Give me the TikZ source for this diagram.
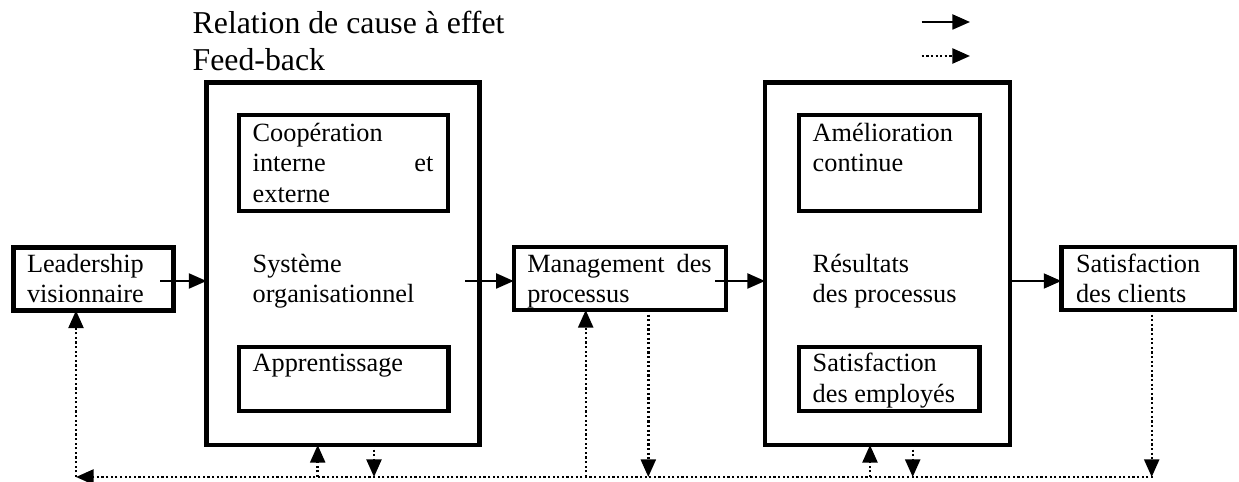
\documentclass[tikz,border=0pt]{standalone}
\usepackage{fontspec}
\setmainfont{Liberation Serif}
\usetikzlibrary{arrows.meta,fit}

\begin{document}
\begin{tikzpicture}[x=0.4563pt,y=-0.4563pt,
  box/.style={draw, rectangle, line width=2pt, inner sep=0pt, outer sep=0pt},
  txt/.style={inner sep=0pt, outer sep=0pt, anchor=base west, font=\fontsize{12}{14}\selectfont},
  txtr/.style={txt, anchor=base east},
  head/.style={inner sep=0pt, outer sep=0pt, anchor=base west, font=\fontsize{14.5}{17}\selectfont},
  tip/.style={-{Triangle[length=8pt,width=6.8pt]}},
  cause/.style={tip, line width=1pt},
  feedback/.style={tip, line width=1.1pt, dash pattern=on 1pt off 1.1pt}
]
\useasboundingbox (0,0) rectangle (1239,482);

% legend
\node[head] (legcause) at (192.7,34) {Relation de cause à effet};
\node[head] (legfb) at (192.7,70.7) {Feed-back};
\coordinate (lc1) at (921.7,22);
\coordinate (lc2) at (970,22);
\coordinate (lf1) at (921.7,56);
\coordinate (lf2) at (970,56);
\draw[cause] (lc1) -- (lc2);
\draw[feedback] (lf1) -- (lf2);

% boxes
\node[box, fit={(13.5,247.5)(173.5,310.5)}] (lead) {};
\node[box, fit={(206.5,82.5)(479.5,445)}] (sys) {};
\node[box, fit={(238.7,115.3)(448,211.3)}] (coop) {};
\node[box, fit={(238.7,347)(448.5,411)}] (app) {};
\node[box, fit={(513.7,247)(726,310)}] (mgmt) {};
\node[box, fit={(765,82.5)(1010,445)}] (res) {};
\node[box, fit={(798.7,115.3)(979.7,210.7)}] (amel) {};
\node[box, fit={(798.7,347)(979.5,411)}] (emp) {};
\node[box, fit={(1061.3,247)(1235,310)}] (cli) {};

% texts
\node[txt] (t1a) at (27,272.7) {Leadership};
\node[txt] (t1b) at (27,302.7) {visionnaire};
\node[txt] (t2a) at (252.7,141.7) {Coopération};
\node[txt] (t2b) at (252.7,171.7) {interne};
\node[txtr] (t2c) at (433.3,171.7) {et};
\node[txt] (t2d) at (252.7,202.7) {externe};
\node[txt] (t3a) at (252.7,272.7) {Système};
\node[txt] (t3b) at (252.7,302.7) {organisationnel};
\node[txt] (t4) at (252.7,371.2) {Apprentissage};
\node[txt] (t5a) at (527.3,272.7) {Management};
\node[txtr] (t5b) at (711.7,272.7) {des};
\node[txt] (t5c) at (527.3,302.7) {processus};
\node[txt] (t6a) at (812.7,141.7) {Amélioration};
\node[txt] (t6b) at (812.7,171.7) {continue};
\node[txt] (t7a) at (812.7,272.7) {Résultats};
\node[txt] (t7b) at (812.7,302.7) {des processus};
\node[txt] (t8a) at (812.7,371.7) {Satisfaction};
\node[txt] (t8b) at (812.7,402.7) {des employés};
\node[txt] (t9a) at (1076,272.7) {Satisfaction};
\node[txt] (t9b) at (1076,302.7) {des clients};

% cause-and-effect arrows
\coordinate (a1) at (160,281);
\coordinate (a2) at (465,281);
\coordinate (a3) at (715,281);
\draw[cause] (a1) -- (a1 -| sys.west);
\draw[cause] (a2) -- (a2 -| mgmt.west);
\draw[cause] (a3) -- (a3 -| res.west);
\draw[cause] (res.east |- a1) -- (a1 -| cli.west);

% feedback loop along the bottom
\coordinate (fbL) at (76,477);
\coordinate (fbR) at (1153,477);
\coordinate (u1) at (317.7,477);
\coordinate (d1) at (374,477);
\coordinate (u2) at (585.7,477);
\coordinate (d2) at (648.3,477);
\coordinate (u3) at (870,477);
\coordinate (d3) at (912.7,477);
\coordinate (d4) at (1151.7,477);
\draw[feedback] (fbR) -- (fbL);
\draw[feedback] (fbL) -- (fbL |- lead.south);
\draw[feedback] (u1) -- (u1 |- sys.south);
\draw[feedback] (d1 |- sys.south) -- (d1);
\draw[feedback] (u2) -- (u2 |- mgmt.south);
\draw[feedback] (d2 |- mgmt.south) -- (d2);
\draw[feedback] (u3) -- (u3 |- res.south);
\draw[feedback] (d3 |- res.south) -- (d3);
\draw[feedback] (d4 |- cli.south) -- (d4);
\end{tikzpicture}
\end{document}
